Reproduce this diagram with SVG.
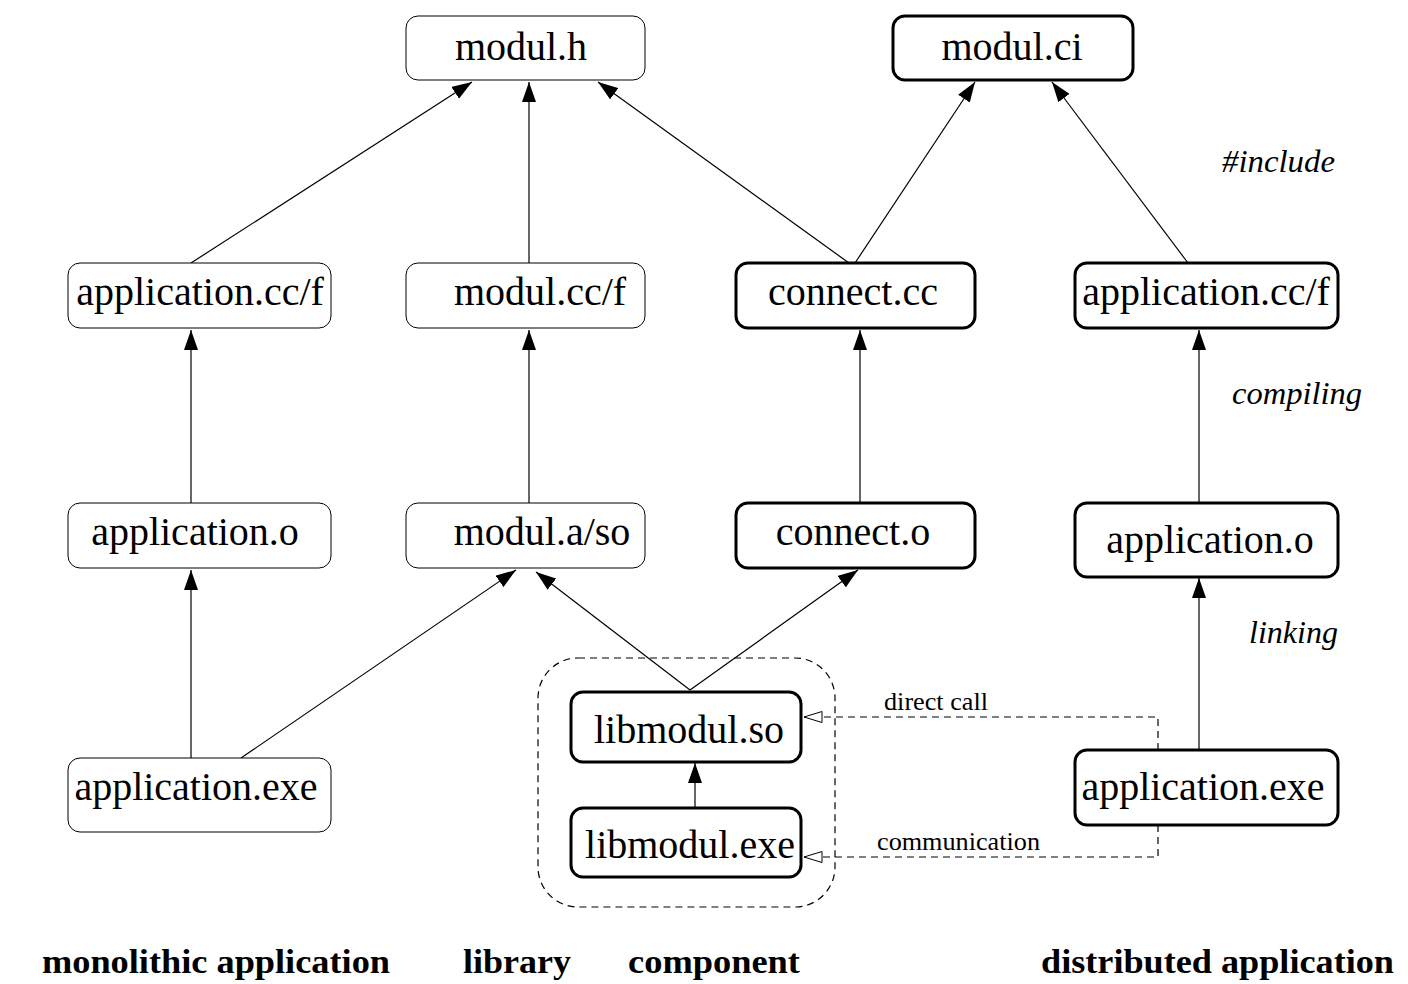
<svg xmlns="http://www.w3.org/2000/svg" width="1408" height="984" viewBox="0 0 1408 984">
<defs>
<marker id="ah" markerUnits="userSpaceOnUse" markerWidth="20" markerHeight="14" viewBox="0 0 20 14" refX="20" refY="7" orient="auto"><path d="M0,0 L20,7 L0,14 Z" fill="#000"/></marker>
<marker id="oh" markerUnits="userSpaceOnUse" markerWidth="20" markerHeight="14" viewBox="0 0 20 14" refX="19" refY="7" orient="auto"><path d="M1,1.5 L19,7 L1,12.5 Z" fill="#fff" stroke="#000" stroke-width="1"/></marker>
<style>
.thin{fill:#fff;stroke:#000;stroke-width:1}
.thick{fill:#fff;stroke:#000;stroke-width:3}
.lbl{font-family:"Liberation Serif",serif;font-size:40px;text-anchor:middle;fill:#000}
.e{stroke:#000;stroke-width:1.2;fill:none;marker-end:url(#ah)}
.d{stroke:#000;stroke-width:1.2;fill:none;stroke-dasharray:7,5;marker-end:url(#oh)}
.it{font-family:"Liberation Serif",serif;font-style:italic;font-size:31px;fill:#000}
.sm{font-family:"Liberation Serif",serif;font-size:25px;fill:#000}
.bt{font-family:"Liberation Serif",serif;font-weight:bold;font-size:33px;fill:#000}
</style>
</defs>
<rect x="538" y="658" width="297" height="249" rx="40" fill="none" stroke="#000" stroke-width="1.2" stroke-dasharray="7,5"/>
<g id="connectors">
<line class="e" x1="191" y1="263" x2="472" y2="82"/>
<line class="e" x1="529" y1="263" x2="529" y2="82"/>
<line class="e" x1="849" y1="263" x2="598" y2="82"/>
<line class="e" x1="855" y1="263" x2="975" y2="82"/>
<line class="e" x1="1188" y1="263" x2="1052" y2="82"/>
<line class="e" x1="191" y1="503" x2="191" y2="330"/>
<line class="e" x1="529" y1="503" x2="529" y2="330"/>
<line class="e" x1="860" y1="503" x2="860" y2="330"/>
<line class="e" x1="1199" y1="503" x2="1199" y2="330"/>
<line class="e" x1="191" y1="758" x2="191" y2="570"/>
<line class="e" x1="241" y1="758" x2="516" y2="570"/>
<line class="e" x1="690" y1="690" x2="536" y2="572"/>
<line class="e" x1="690" y1="690" x2="858" y2="570"/>
<line class="e" x1="695" y1="808" x2="695" y2="763"/>
<line class="e" x1="1199" y1="750" x2="1199" y2="578"/>
<path class="d" d="M1158,750 L1158,717 L804,717"/>
<path class="d" d="M1158,825 L1158,857 L804,857"/>
</g>
<g id="modul_h"><rect class="thin" x="406" y="16" width="239" height="64" rx="12"/><text class="lbl" x="521" y="60">modul.h</text></g>
<g id="modul_ci"><rect class="thick" x="893" y="16" width="240" height="64" rx="12"/><text class="lbl" x="1012" y="60">modul.ci</text></g>
<g id="app_ccf_l"><rect class="thin" x="68" y="263" width="263" height="65" rx="12"/><text class="lbl" x="200" y="305">application.cc/f</text></g>
<g id="modul_ccf"><rect class="thin" x="406" y="263" width="239" height="65" rx="12"/><text class="lbl" x="540" y="305">modul.cc/f</text></g>
<g id="connect_cc"><rect class="thick" x="736" y="263" width="239" height="65" rx="12"/><text class="lbl" x="853" y="305">connect.cc</text></g>
<g id="app_ccf_r"><rect class="thick" x="1075" y="263" width="263" height="65" rx="12"/><text class="lbl" x="1206" y="305">application.cc/f</text></g>
<g id="app_o_l"><rect class="thin" x="68" y="503" width="263" height="65" rx="12"/><text class="lbl" x="195" y="545">application.o</text></g>
<g id="modul_aso"><rect class="thin" x="406" y="503" width="239" height="65" rx="12"/><text class="lbl" x="542" y="545">modul.a/so</text></g>
<g id="connect_o"><rect class="thick" x="736" y="503" width="239" height="65" rx="12"/><text class="lbl" x="853" y="545">connect.o</text></g>
<g id="app_o_r"><rect class="thick" x="1075" y="503" width="263" height="74" rx="12"/><text class="lbl" x="1210" y="553">application.o</text></g>
<g id="app_exe_l"><rect class="thin" x="68" y="758" width="263" height="74" rx="12"/><text class="lbl" x="196" y="800">application.exe</text></g>
<g id="libmodul_so"><rect class="thick" x="571" y="692" width="230" height="70" rx="12"/><text class="lbl" x="689" y="743">libmodul.so</text></g>
<g id="libmodul_exe"><rect class="thick" x="571" y="808" width="230" height="69" rx="12"/><text class="lbl" x="690" y="858">libmodul.exe</text></g>
<g id="app_exe_r"><rect class="thick" x="1075" y="750" width="263" height="75" rx="12"/><text class="lbl" x="1203" y="800">application.exe</text></g>
<text class="it" x="1222" y="172" textLength="113" lengthAdjust="spacingAndGlyphs">#include</text>
<text class="it" x="1232" y="404" textLength="130" lengthAdjust="spacingAndGlyphs">compiling</text>
<text class="it" x="1249" y="643" textLength="89" lengthAdjust="spacingAndGlyphs">linking</text>
<text class="sm" x="884" y="710" textLength="104" lengthAdjust="spacingAndGlyphs">direct call</text>
<text class="sm" x="877" y="850" textLength="163" lengthAdjust="spacingAndGlyphs">communication</text>
<text class="bt" x="42" y="973" textLength="348" lengthAdjust="spacingAndGlyphs">monolithic application</text>
<text class="bt" x="463" y="973" textLength="108" lengthAdjust="spacingAndGlyphs">library</text>
<text class="bt" x="628" y="973" textLength="172" lengthAdjust="spacingAndGlyphs">component</text>
<text class="bt" x="1041" y="973" textLength="353" lengthAdjust="spacingAndGlyphs">distributed application</text>
</svg>
